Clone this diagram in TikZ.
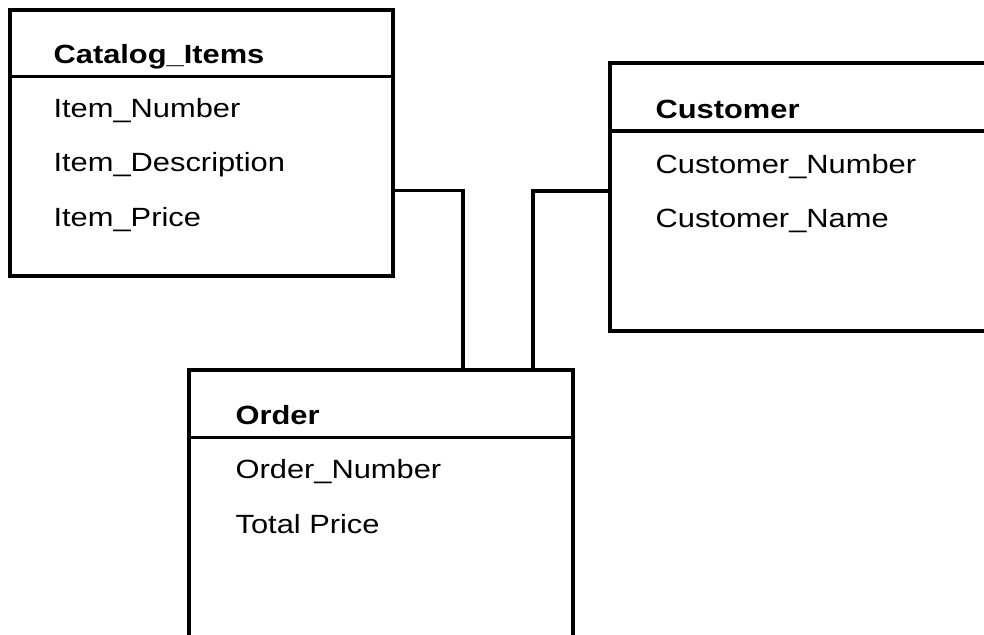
\documentclass[tikz,border=0pt]{standalone}
\usepackage{fontspec}
\setmainfont{Liberation Sans}[FakeStretch=1.17]
\usepackage{tikz}
\usetikzlibrary{calc}
\tikzset{
  entity/.style={draw=black, line width=2pt, rectangle, inner sep=0pt},
  sepline/.style={draw=black, line width=1.9pt},
  link/.style={draw=black, line width=1.9pt},
  title/.style={anchor=base west, inner sep=0pt, font=\fontsize{15}{18}\selectfont\bfseries},
  field/.style={anchor=base west, inner sep=0pt, font=\fontsize{15}{18}\selectfont}
}

\begin{document}
\begin{tikzpicture}
  \useasboundingbox (0,0) rectangle (19.68,-12.7);
  \clip (0,0) rectangle (19.68,-12.7);

  \node[entity, minimum width=7.66cm, minimum height=5.32cm] (catalog) at (4.03,-2.86) {};
  \node[entity, minimum width=7.8cm, minimum height=5.37cm] (customer) at (16.1,-3.94) {};
  \node[entity, minimum width=7.68cm, minimum height=5.4cm] (order) at (7.62,-10.1) {};

  \draw[sepline] ([yshift=-1.36cm]catalog.north west) -- ([yshift=-1.36cm]catalog.north east);
  \draw[sepline] ([yshift=-1.4cm]customer.north west) -- ([yshift=-1.4cm]customer.north east);
  \draw[sepline] ([yshift=-1.38cm]order.north west) -- ([yshift=-1.38cm]order.north east);

  \node[title] (cattitle) at ([shift={(0.9,-1.1)}]catalog.north west) {Catalog\_Items};
  \node[field] (itemnumber) at ([shift={(0.9,-2.18)}]catalog.north west) {Item\_Number};
  \node[field] (itemdesc) at ([shift={(0.9,-3.26)}]catalog.north west) {Item\_Description};
  \node[field] (itemprice) at ([shift={(0.9,-4.36)}]catalog.north west) {Item\_Price};

  \node[title] (custtitle) at ([shift={(0.94,-1.15)}]customer.north west) {Customer};
  \node[field] (custnumber) at ([shift={(0.94,-2.25)}]customer.north west) {Customer\_Number};
  \node[field] (custname) at ([shift={(0.94,-3.33)}]customer.north west) {Customer\_Name};

  \node[title] (ordtitle) at ([shift={(0.96,-1.12)}]order.north west) {Order};
  \node[field] (ordnumber) at ([shift={(0.96,-2.2)}]order.north west) {Order\_Number};
  \node[field] (ordprice) at ([shift={(0.96,-3.3)}]order.north west) {Total Price};

  \draw[link] ([yshift=-0.95cm]catalog.east) -| ([xshift=1.64cm]order.north);
  \draw[link] ([yshift=0.12cm]customer.west) -| ([xshift=3.04cm]order.north);
\end{tikzpicture}
\end{document}
